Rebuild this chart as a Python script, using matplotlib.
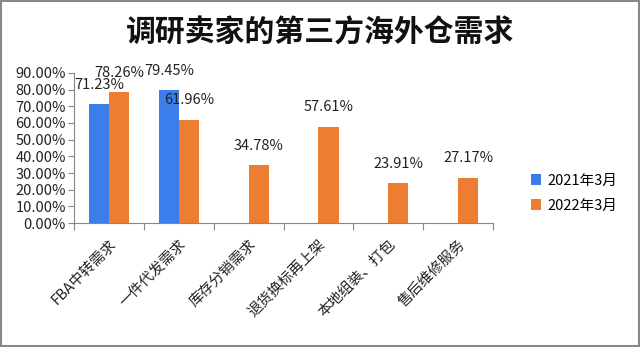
"""Bar chart: third-party overseas warehouse demand surveyed among sellers."""

import matplotlib

matplotlib.use("Agg")
import matplotlib.pyplot as plt
import numpy as np
from matplotlib.patches import Rectangle
from matplotlib.ticker import FuncFormatter

plt.rcParams["font.family"] = ["Noto Sans CJK SC", "DejaVu Sans"]

categories = ["FBA中转需求", "一件代发需求", "库存分销需求", "退货换标再上架", "本地组装、打包", "售后维修服务"]
series_names = ["2021年3月", "2022年3月"]
values_2021 = [71.23, 79.45, np.nan, np.nan, np.nan, np.nan]
values_2022 = [78.26, 61.96, 34.78, 57.61, 23.91, 27.17]
yticks = [0, 10, 20, 30, 40, 50, 60, 70, 80, 90]

BLUE = "#3B7DEB"
ORANGE = "#ED7D31"

fig = plt.figure(figsize=(6.4, 3.47), dpi=100)
ax = fig.add_axes([0.116, 0.357, 0.654, 0.433])

x = np.arange(len(categories))
width = 0.29
for vals, offset, color, name in [
    (values_2021, -width / 2, BLUE, series_names[0]),
    (values_2022, width / 2, ORANGE, series_names[1]),
]:
    ax.bar(x + offset, vals, width, color=color, label=name)
    for xi, v in zip(x, vals):
        if np.isnan(v):
            continue
        ax.annotate(f"{v:.2f}%", (xi + offset, v), xytext=(0, 14),
                    textcoords="offset points", ha="center", va="center",
                    fontsize=10.5, color="#222222")

ax.set_xlim(-0.5, len(categories) - 0.5)
ax.set_ylim(0, 90)
ax.set_yticks(yticks)
ax.yaxis.set_major_formatter(FuncFormatter(lambda v, _: f"{v:.2f}%"))
ax.tick_params(axis="y", labelsize=10.5, length=4, color="#888888", pad=2, labelcolor="#222222")

# category ticks sit on the group boundaries, labels at the centres
ax.set_xticks(np.arange(len(categories) + 1) - 0.5)
ax.set_xticklabels([])
ax.set_xticks(x, minor=True)
ax.set_xticklabels(categories, minor=True, rotation=45, ha="right",
                   rotation_mode="anchor", fontsize=10.5, color="#222222")
ax.tick_params(axis="x", which="major", length=5, color="#888888")
ax.tick_params(axis="x", which="minor", length=0, pad=10)

for side in ("top", "right"):
    ax.spines[side].set_visible(False)
for side in ("left", "bottom"):
    ax.spines[side].set_color("#888888")

ax.legend(loc="center left", bbox_to_anchor=(1.06, 0.2), frameon=False,
          handlelength=0.7, handleheight=0.7, handletextpad=0.4,
          labelspacing=0.75, fontsize=10.5)

fig.text(0.5, 0.905, "调研卖家的第三方海外仓需求", ha="center", va="center",
         fontsize=21.5, fontweight="bold", color="#111111")

fig.patches.append(Rectangle((0.002, 0.003), 0.996, 0.994, transform=fig.transFigure,
                             fill=False, edgecolor="#888888", linewidth=1.5))

fig.savefig("out.png", dpi=100)
